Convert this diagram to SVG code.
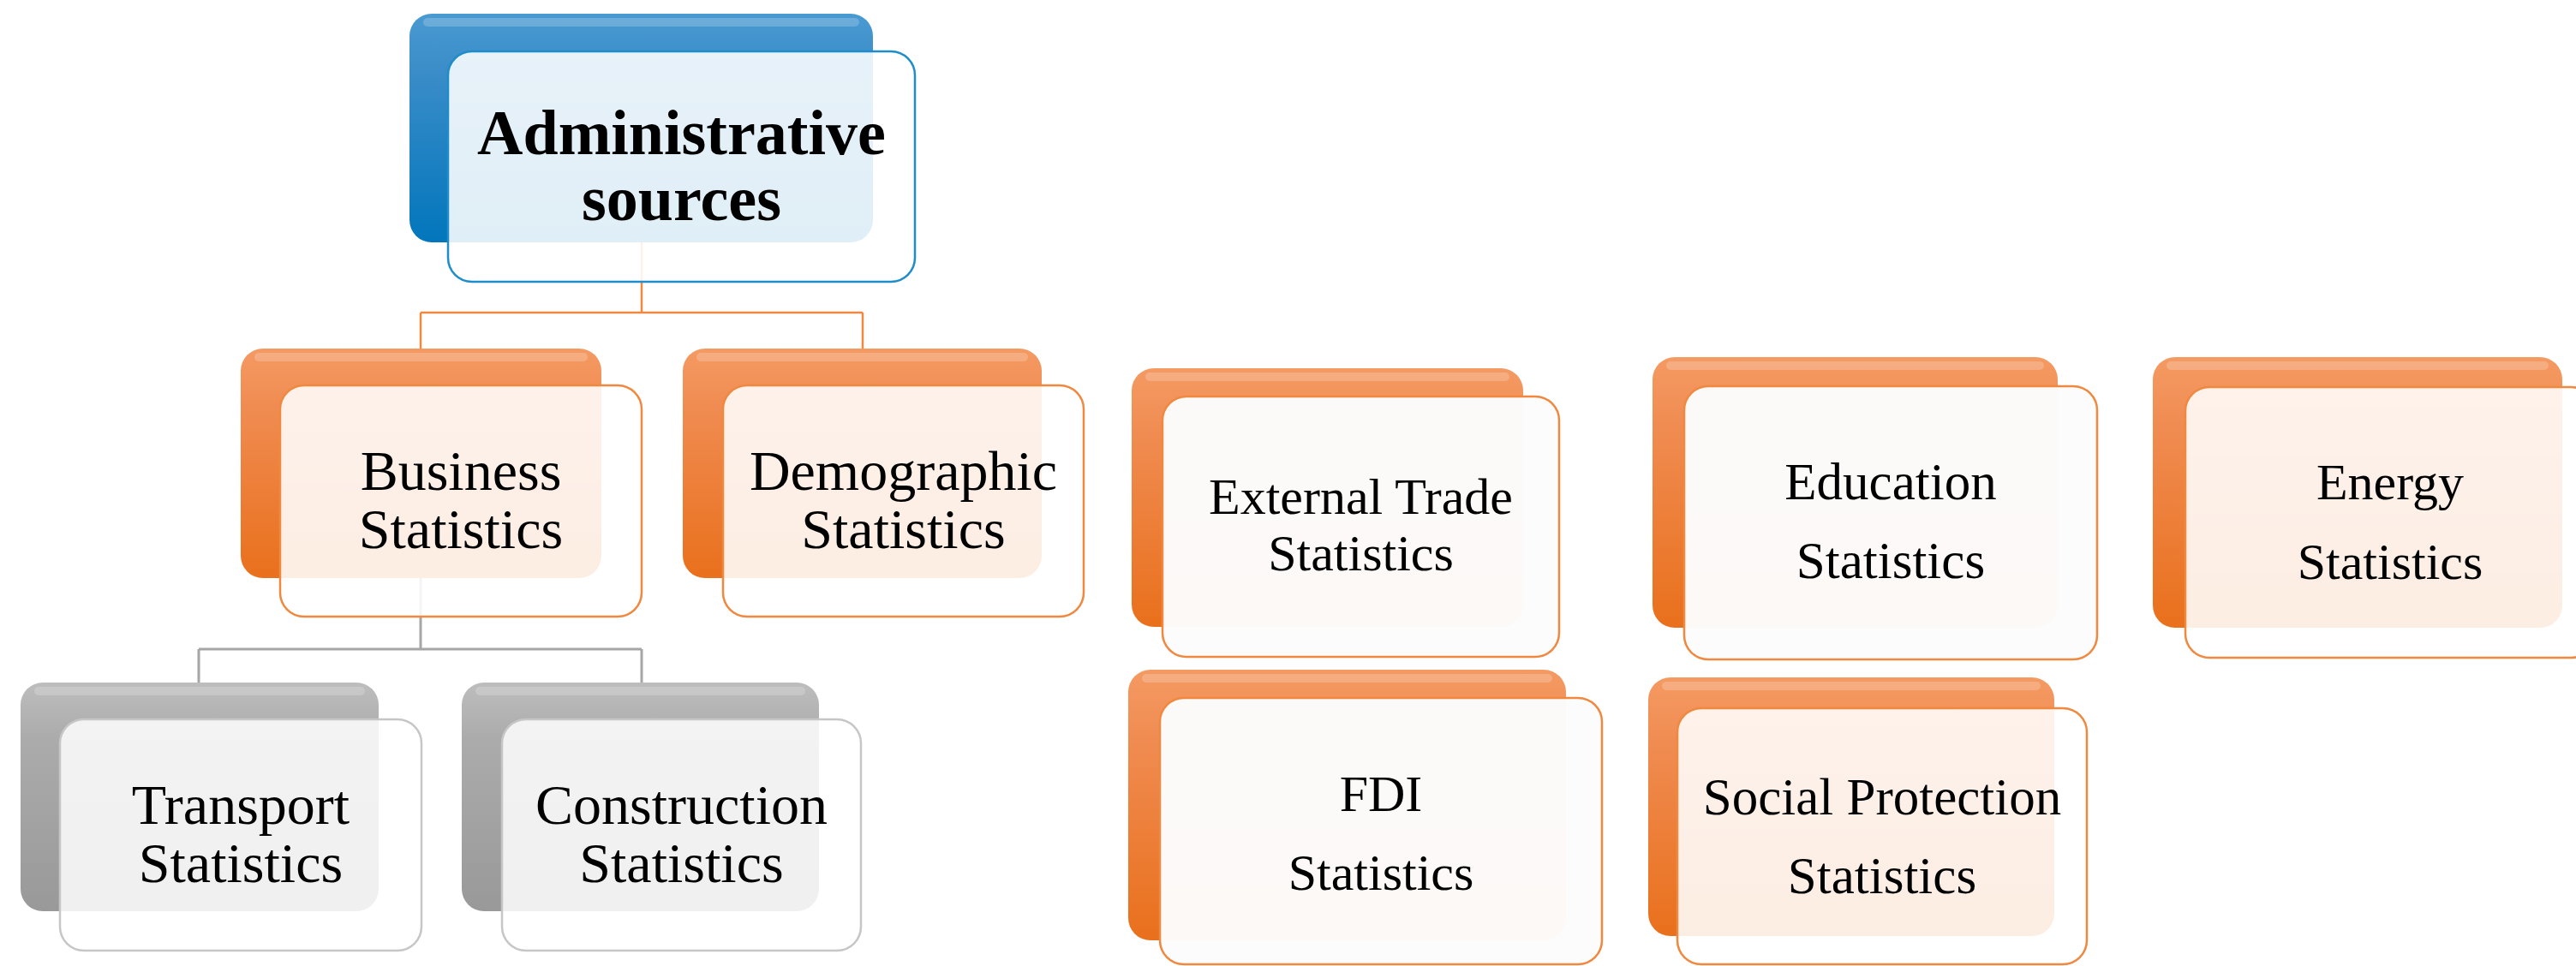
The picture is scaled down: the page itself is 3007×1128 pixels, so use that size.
<svg xmlns="http://www.w3.org/2000/svg" width="3007" height="1128" viewBox="0 0 3007 1128">
<style>
.bk{rx:26px;ry:26px}
.fr{rx:28px;ry:28px;stroke-width:2.5}
.blue{fill:url(#gBlue)}
.orange{fill:url(#gOr)}
.grey{fill:url(#gGr)}
.fb{fill:#ffffff;fill-opacity:.88;stroke:#1e8dc9}
.fo{fill:#ffffff;fill-opacity:.88;stroke:#f0883f}
.fw{fill:#fcfcfc;fill-opacity:.98;stroke:#f0883f}
.fg{fill:#ffffff;fill-opacity:.85;stroke:#c6c6c6}
.hl{fill:#ffffff;fill-opacity:.2}
.t{font-family:"Liberation Serif","Times New Roman",serif;fill:#000;text-anchor:middle}
.tb{font-weight:bold;font-size:74px}
.t66{font-size:66px}
.t60{font-size:60px}
.t61{font-size:61px}
.co{fill:none;stroke:#f0883f;stroke-width:2.5}
.cg{fill:none;stroke:#a6a6a6;stroke-width:3}
</style>
<defs>
<linearGradient id="gBlue" x1="0" y1="0" x2="0" y2="1">
<stop offset="0" stop-color="#4a9ad2"/>
<stop offset="0.25" stop-color="#3a8dc8"/>
<stop offset="1" stop-color="#0276bc"/>
</linearGradient>
<linearGradient id="gOr" x1="0" y1="0" x2="0" y2="1">
<stop offset="0" stop-color="#f49a63"/>
<stop offset="0.25" stop-color="#f08c52"/>
<stop offset="1" stop-color="#e9701c"/>
</linearGradient>
<linearGradient id="gGr" x1="0" y1="0" x2="0" y2="1">
<stop offset="0" stop-color="#bdbdbd"/>
<stop offset="0.25" stop-color="#ababab"/>
<stop offset="1" stop-color="#999999"/>
</linearGradient>
</defs>
<rect width="3007" height="1128" fill="#ffffff"/>
<g id="connectors">
<path class="co" d="M749 283 V365 M491 365 H1007 M491 365 V407 M1007 365 V407"/>
<path class="cg" d="M491 675 V758 M232 758 H749 M232 758 V797 M749 758 V797"/>
</g>
<g id="root">
<rect class="bk blue" x="478" y="16" width="541" height="267"/>
<rect class="hl" x="494" y="21" width="509" height="10" rx="5"/>
<rect class="fr fb" x="523" y="60" width="545" height="269"/>
<text class="t tb" x="795.5" y="180">Administrative</text>
<text class="t tb" x="795.5" y="257">sources</text>
</g>
<g id="business">
<rect class="bk orange" x="281" y="407" width="421" height="268"/>
<rect class="hl" x="297" y="412" width="389" height="10" rx="5"/>
<rect class="fr fo" x="327" y="450" width="422" height="270"/>
<text class="t t66" x="538" y="572">Business</text>
<text class="t t66" x="538" y="640">Statistics</text>
</g>
<g id="demographic">
<rect class="bk orange" x="797" y="407" width="419" height="268"/>
<rect class="hl" x="813" y="412" width="387" height="10" rx="5"/>
<rect class="fr fo" x="844" y="450" width="421" height="270"/>
<text class="t t66" x="1054.5" y="572">Demographic</text>
<text class="t t66" x="1054.5" y="640">Statistics</text>
</g>
<g id="transport">
<rect class="bk grey" x="24" y="797" width="418" height="267"/>
<rect class="hl" x="40" y="802" width="386" height="10" rx="5"/>
<rect class="fr fg" x="70" y="840" width="422" height="270"/>
<text class="t t66" x="281" y="962">Transport</text>
<text class="t t66" x="281" y="1030">Statistics</text>
</g>
<g id="construction">
<rect class="bk grey" x="539" y="797" width="417" height="267"/>
<rect class="hl" x="555" y="802" width="385" height="10" rx="5"/>
<rect class="fr fg" x="586" y="840" width="419" height="270"/>
<text class="t t66" x="795.5" y="962">Construction</text>
<text class="t t66" x="795.5" y="1030">Statistics</text>
</g>
<g id="external-trade">
<rect class="bk orange" x="1321" y="430" width="457" height="302"/>
<rect class="hl" x="1337" y="435" width="425" height="10" rx="5"/>
<rect class="fr fw" x="1357" y="463" width="463" height="304"/>
<text class="t t60" x="1588.5" y="600">External Trade</text>
<text class="t t60" x="1588.5" y="666">Statistics</text>
</g>
<g id="education">
<rect class="bk orange" x="1929" y="417" width="473" height="316"/>
<rect class="hl" x="1945" y="422" width="441" height="10" rx="5"/>
<rect class="fr fw" x="1966" y="451" width="482" height="319"/>
<text class="t t61" x="2207" y="583">Education</text>
<text class="t t61" x="2207" y="675">Statistics</text>
</g>
<g id="energy">
<rect class="bk orange" x="2513" y="417" width="478" height="316"/>
<rect class="hl" x="2529" y="422" width="446" height="10" rx="5"/>
<rect class="fr fo" x="2551" y="452" width="478" height="316"/>
<text class="t t60" x="2790" y="583">Energy</text>
<text class="t t60" x="2790" y="676">Statistics</text>
</g>
<g id="fdi">
<rect class="bk orange" x="1317" y="782" width="511" height="316"/>
<rect class="hl" x="1333" y="787" width="479" height="10" rx="5"/>
<rect class="fr fw" x="1354" y="815" width="516" height="311"/>
<text class="t t60" x="1612" y="947">FDI</text>
<text class="t t60" x="1612" y="1039">Statistics</text>
</g>
<g id="social-protection">
<rect class="bk orange" x="1924" y="791" width="474" height="302"/>
<rect class="hl" x="1940" y="796" width="442" height="10" rx="5"/>
<rect class="fr fo" x="1958" y="827" width="478" height="299"/>
<text class="t t61" x="2197" y="951">Social Protection</text>
<text class="t t61" x="2197" y="1043">Statistics</text>
</g>
</svg>
